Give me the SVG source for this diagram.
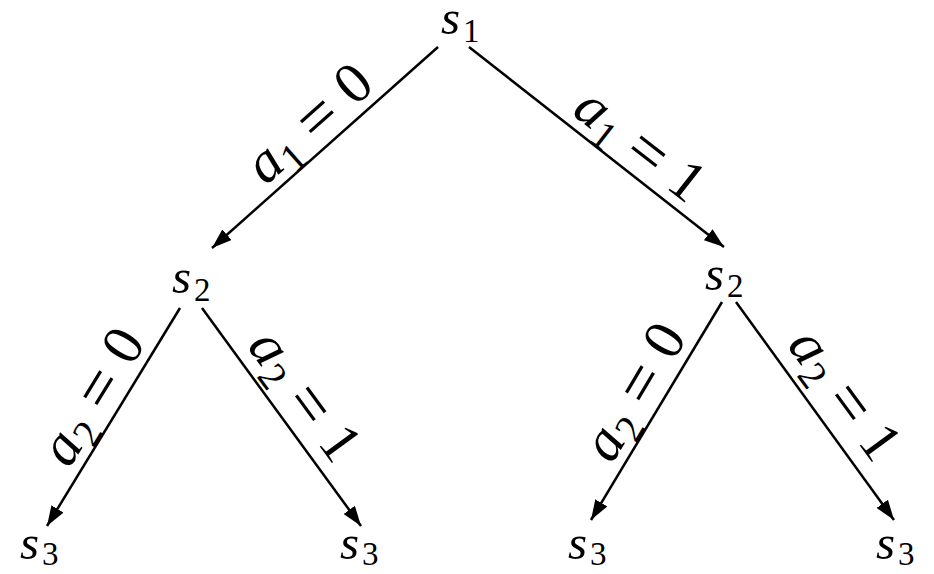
<svg xmlns="http://www.w3.org/2000/svg" width="934" height="574" viewBox="0 0 934 574">
<style>
text{font-family:"Liberation Serif","Times New Roman",serif;fill:#000}
.n{font-size:49px}
.l{font-size:58px}
.i{font-style:italic}
.sb{font-size:33px}
.ls{font-size:40px}
.eq{font-size:66px}
.e{stroke:#000;stroke-width:2.5;fill:none;marker-end:url(#ah)}
</style>
<defs>
<marker id="ah" markerUnits="userSpaceOnUse" viewBox="0 0 20 14" refX="20" refY="7" markerWidth="20" markerHeight="14" orient="auto">
<path d="M0,0 L20,7 L0,14 Z" fill="#000"/>
</marker>
</defs>
<rect width="934" height="574" fill="#fff"/>
<g id="connectors">
<line class="e" x1="438" y1="47" x2="212" y2="248"/>
<line class="e" x1="469" y1="47" x2="724" y2="247"/>
<line class="e" x1="180" y1="308" x2="47" y2="526"/>
<line class="e" x1="202" y1="308" x2="361" y2="526"/>
<line class="e" x1="722" y1="302" x2="591" y2="520"/>
<line class="e" x1="736" y1="302" x2="894" y2="520"/>
</g>
<g id="edge-labels">
<text class="l" transform="translate(321,137) rotate(-41.6)" text-anchor="middle"><tspan class="i">a</tspan><tspan class="ls" dy="10" dx="1">1</tspan><tspan class="eq" dy="-6" dx="16">=</tspan><tspan dy="-4" dx="16">0</tspan></text>
<text class="l" transform="translate(629,159) rotate(37.9)" text-anchor="middle"><tspan class="i">a</tspan><tspan class="ls" dy="10" dx="1">1</tspan><tspan class="eq" dy="-6" dx="16">=</tspan><tspan dy="-4" dx="16">1</tspan></text>
<text class="l" transform="translate(108,406) rotate(-58.5)" text-anchor="middle"><tspan class="i">a</tspan><tspan class="ls" dy="10" dx="1">2</tspan><tspan class="eq" dy="-6" dx="16">=</tspan><tspan dy="-4" dx="16">0</tspan></text>
<text class="l" transform="translate(290,406) rotate(53.8)" text-anchor="middle"><tspan class="i">a</tspan><tspan class="ls" dy="10" dx="1">2</tspan><tspan class="eq" dy="-6" dx="16">=</tspan><tspan dy="-4" dx="16">1</tspan></text>
<text class="l" transform="translate(650,401) rotate(-59.2)" text-anchor="middle"><tspan class="i">a</tspan><tspan class="ls" dy="10" dx="1">2</tspan><tspan class="eq" dy="-6" dx="16">=</tspan><tspan dy="-4" dx="16">0</tspan></text>
<text class="l" transform="translate(830,405) rotate(53.8)" text-anchor="middle"><tspan class="i">a</tspan><tspan class="ls" dy="10" dx="1">2</tspan><tspan class="eq" dy="-6" dx="16">=</tspan><tspan dy="-4" dx="16">1</tspan></text>
</g>
<g id="s1"><text class="n" x="441" y="34"><tspan class="i">s</tspan><tspan class="sb" dy="8" dx="3">1</tspan></text></g>
<g id="s2-left"><text class="n" x="172" y="293"><tspan class="i">s</tspan><tspan class="sb" dy="8" dx="3">2</tspan></text></g>
<g id="s2-right"><text class="n" x="705" y="290"><tspan class="i">s</tspan><tspan class="sb" dy="7" dx="3">2</tspan></text></g>
<g id="s3-1"><text class="n" x="20" y="559"><tspan class="i">s</tspan><tspan class="sb" dy="6" dx="3">3</tspan></text></g>
<g id="s3-2"><text class="n" x="340" y="559"><tspan class="i">s</tspan><tspan class="sb" dy="6" dx="3">3</tspan></text></g>
<g id="s3-3"><text class="n" x="568" y="559"><tspan class="i">s</tspan><tspan class="sb" dy="6" dx="3">3</tspan></text></g>
<g id="s3-4"><text class="n" x="876" y="559"><tspan class="i">s</tspan><tspan class="sb" dy="6" dx="3">3</tspan></text></g>
</svg>
